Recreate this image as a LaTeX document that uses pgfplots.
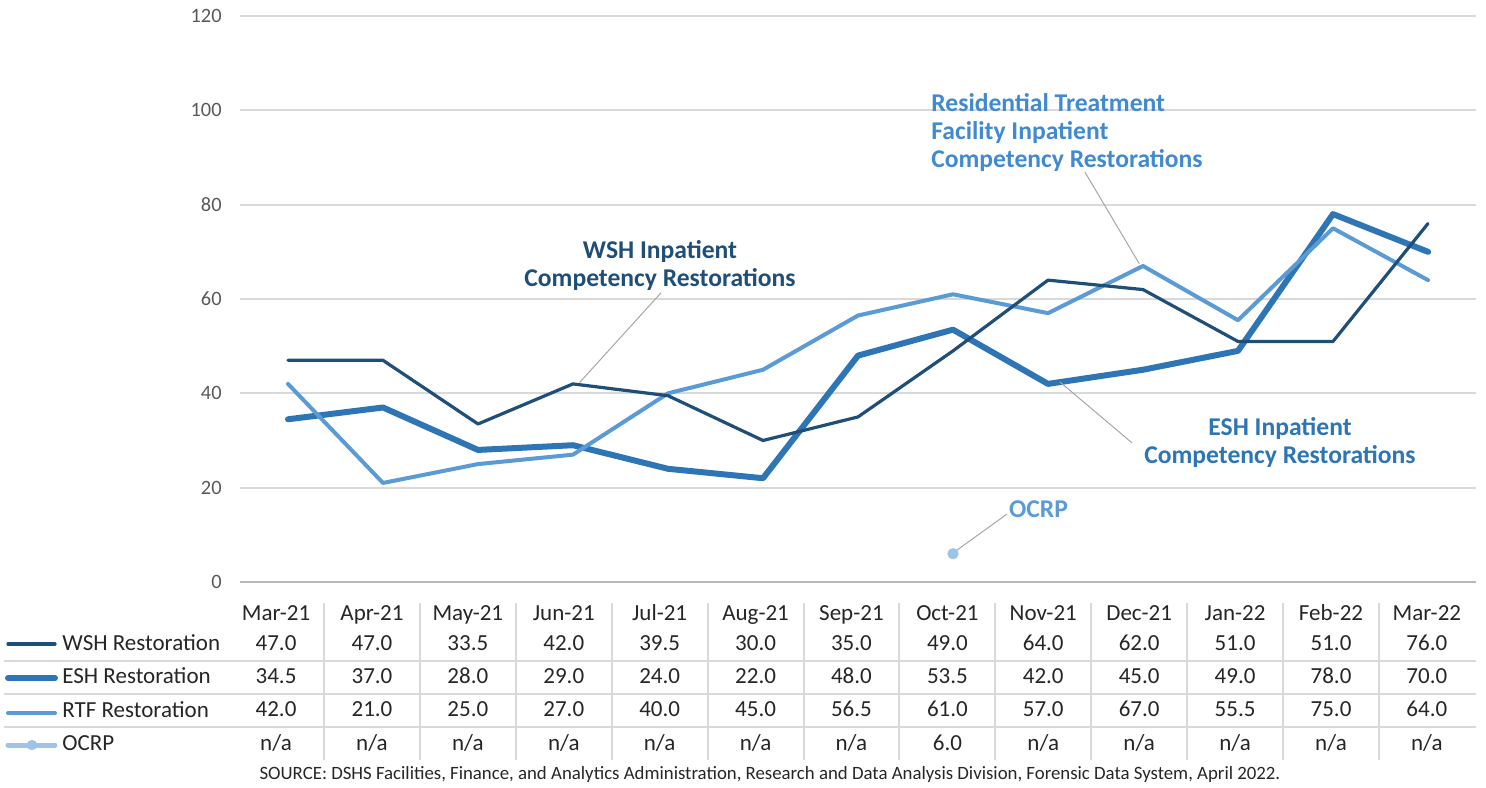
\documentclass[border=0pt]{standalone}
\usepackage{pgfplots}
\pgfplotsset{compat=1.18}
\usepackage{fontspec}
\setmainfont{Carlito}
\definecolor{wsh}{HTML}{1F4E79}
\definecolor{esh}{HTML}{2E75B6}
\definecolor{rtf}{HTML}{5B9BD5}
\definecolor{rtftext}{HTML}{4189D1}
\definecolor{ocrp}{HTML}{9DC3E6}
\definecolor{gridc}{HTML}{D9D9D9}
\definecolor{leader}{HTML}{A6A6A6}
\definecolor{txt}{HTML}{262626}
\definecolor{ytxt}{HTML}{595959}
\begin{document}
\begin{tikzpicture}
\path[use as bounding box] (-120.25pt,-102.5pt) rectangle (622.75pt,291pt);
\begin{axis}[
  at={(0,0)}, anchor=south west,
  scale only axis, width=617.5pt, height=283pt,
  xmin=-0.5, xmax=12.5, ymin=0, ymax=120,
  clip=false,
  axis line style={draw=none},
  tick style={draw=none},
  ytick={0,20,...,120},
  ymajorgrids,
  grid style={gridc, line width=1pt},
  /pgf/number format/assume math mode=true,
  yticklabel style={font=\fontsize{10.2}{12}\selectfont, text=ytxt, anchor=east, inner sep=0pt, xshift=-9.25pt},
  xtick={-0.126,0.884,1.893,2.903,3.912,4.922,5.931,6.941,7.950,8.960,9.969,10.979,11.988},
  xticklabels={
    {\strut Mar-21\\[-1.6pt]47.0\\34.5\\42.0\\n/a},
    {\strut Apr-21\\[-1.6pt]47.0\\37.0\\21.0\\n/a},
    {\strut May-21\\[-1.6pt]33.5\\28.0\\25.0\\n/a},
    {\strut Jun-21\\[-1.6pt]42.0\\29.0\\27.0\\n/a},
    {\strut Jul-21\\[-1.6pt]39.5\\24.0\\40.0\\n/a},
    {\strut Aug-21\\[-1.6pt]30.0\\22.0\\45.0\\n/a},
    {\strut Sep-21\\[-1.6pt]35.0\\48.0\\56.5\\n/a},
    {\strut Oct-21\\[-1.6pt]49.0\\53.5\\61.0\\6.0},
    {\strut Nov-21\\[-1.6pt]64.0\\42.0\\57.0\\n/a},
    {\strut Dec-21\\[-1.6pt]62.0\\45.0\\67.0\\n/a},
    {\strut Jan-22\\[-1.6pt]51.0\\49.0\\55.5\\n/a},
    {\strut Feb-22\\[-1.6pt]51.0\\78.0\\75.0\\n/a},
    {\strut Mar-22\\[-1.6pt]76.0\\70.0\\64.0\\n/a}},
  xticklabel style={font=\fontsize{11.5}{16.6}\selectfont, text=txt, align=center, anchor=north, inner sep=0pt, yshift=-7.38pt},
]
% zero line
\draw[gray!55, line width=1pt] (rel axis cs:0,0) -- (rel axis cs:1,0);

% series
\addplot[esh, line width=3pt, line join=round, line cap=round] coordinates {
 (0,34.5) (1,37) (2,28) (3,29) (4,24) (5,22) (6,48) (7,53.5) (8,42) (9,45) (10,49) (11,78) (12,70)};
\addplot[rtf, line width=2pt, line join=round, line cap=round] coordinates {
 (0,42) (1,21) (2,25) (3,27) (4,40) (5,45) (6,56.5) (7,61) (8,57) (9,67) (10,55.5) (11,75) (12,64)};
\addplot[wsh, line width=1.6pt, line join=round, line cap=round] coordinates {
 (0,47) (1,47) (2,33.5) (3,42) (4,39.5) (5,30) (6,35) (7,49) (8,64) (9,62) (10,51) (11,51) (12,76)};
\addplot[only marks, mark=*, mark size=2.6pt, mark options={fill=ocrp, draw=ocrp}] coordinates {(7,6)};

% leader lines
\draw[leader, line width=0.5pt] (axis cs:3.926,61.3) -- (axis cs:3.07,42.3);
\draw[leader, line width=0.5pt] (axis cs:8.389,86.9) -- (axis cs:8.96,67.5);
\draw[leader, line width=0.5pt] (axis cs:8.126,42.4) -- (axis cs:8.884,29.5);
\draw[leader, line width=0.5pt] (axis cs:7.568,14.4) -- (axis cs:7.01,6.3);

% annotations
\node[wsh, align=center, font=\bfseries\fontsize{12.8}{14}\selectfont] at (axis cs:3.916,67.2) {WSH Inpatient\\Competency Restorations};
\node[rtftext, align=left, anchor=west, inner sep=0pt, font=\bfseries\fontsize{12.8}{14}\selectfont] at (axis cs:6.768,95.4) {Residential Treatment\\Facility Inpatient\\Competency Restorations};
\node[esh, align=center, font=\bfseries\fontsize{12.8}{14}\selectfont] at (axis cs:10.442,29.6) {ESH Inpatient\\Competency Restorations};
\node[rtf, font=\bfseries\fontsize{12.8}{14}\selectfont] at (axis cs:7.9,15.5) {OCRP};

% table grid
\pgfplotsinvokeforeach{39.35,56,72.5}{
  \draw[gridc, line width=1pt] ([xshift=-118.25pt,yshift=-#1pt]rel axis cs:0,0) -- ([yshift=-#1pt]rel axis cs:1,0);
}
\pgfplotsinvokeforeach{41.75,89.7,137.65,185.6,233.55,281.5,329.45,377.4,425.35,473.3,521.25,569.2}{
  \draw[gridc, line width=1pt] ([xshift=#1pt,yshift=-10.5pt]rel axis cs:0,0) -- ([xshift=#1pt,yshift=-89pt]rel axis cs:0,0);
}

% legend rows
\draw[wsh, line width=1.6pt, line cap=round] ([xshift=-116.25pt,yshift=-31pt]rel axis cs:0,0) -- ([xshift=-92.75pt,yshift=-31pt]rel axis cs:0,0);
\draw[esh, line width=3pt, line cap=round] ([xshift=-116.25pt,yshift=-48pt]rel axis cs:0,0) -- ([xshift=-92.75pt,yshift=-48pt]rel axis cs:0,0);
\draw[rtf, line width=2pt, line cap=round] ([xshift=-116.25pt,yshift=-65.5pt]rel axis cs:0,0) -- ([xshift=-92.75pt,yshift=-65.5pt]rel axis cs:0,0);
\draw[ocrp, line width=2.5pt, line cap=round] ([xshift=-116.25pt,yshift=-81.5pt]rel axis cs:0,0) -- ([xshift=-92.75pt,yshift=-81.5pt]rel axis cs:0,0);
\fill[ocrp] ([xshift=-104.25pt,yshift=-81.5pt]rel axis cs:0,0) circle (2.6pt);
\begin{scope}[every node/.style={anchor=base west, inner sep=0pt, text=txt, font=\fontsize{11.5}{14}\selectfont}]
\node at ([xshift=-89.25pt,yshift=-34pt]rel axis cs:0,0) {WSH Restoration};
\node at ([xshift=-89.25pt,yshift=-50.5pt]rel axis cs:0,0) {ESH Restoration};
\node at ([xshift=-89.25pt,yshift=-67.5pt]rel axis cs:0,0) {RTF Restoration};
\node at ([xshift=-89.25pt,yshift=-84pt]rel axis cs:0,0) {OCRP};
\end{scope}
% source
\node[anchor=base, inner sep=0pt, text=txt, font=\fontsize{9.4}{12}\selectfont] at ([xshift=264.75pt,yshift=-98.5pt]rel axis cs:0,0) {SOURCE: DSHS Facilities, Finance, and Analytics Administration, Research and Data Analysis Division, Forensic Data System, April 2022.};
\end{axis}
\end{tikzpicture}
\end{document}
